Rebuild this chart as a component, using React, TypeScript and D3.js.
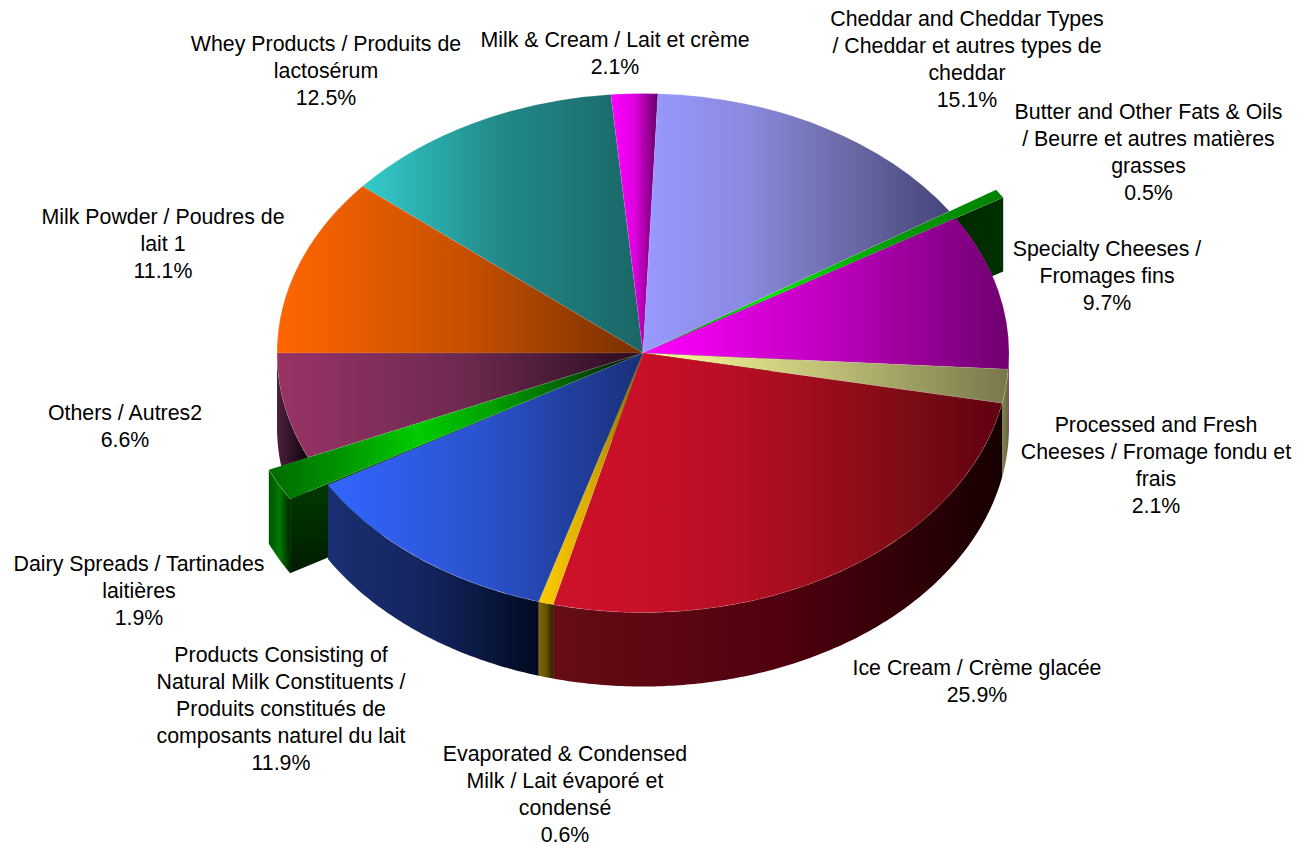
import * as d3 from "d3";

const categories = [
  "Milk & Cream",
  "Cheddar",
  "Butter",
  "Specialty",
  "Processed",
  "Ice Cream",
  "Evaporated",
  "Products",
  "Dairy Spreads",
  "Others",
  "Milk Powder",
  "Whey",
];
const shares = [2.05, 15.149, 0.5, 9.7, 2.1, 25.85, 0.649, 11.9, 1.9, 6.6, 11.1, 12.5];

const labelLines = [
  ["Milk & Cream / Lait et crème", "2.1%"],
  ["Cheddar and Cheddar Types", "/ Cheddar et autres types de", "cheddar", "15.1%"],
  ["Butter and Other Fats & Oils", "/ Beurre et autres matières", "grasses", "0.5%"],
  ["Specialty Cheeses /", "Fromages fins", "9.7%"],
  ["Processed and Fresh", "Cheeses / Fromage fondu et", "frais", "2.1%"],
  ["Ice Cream / Crème glacée", "25.9%"],
  ["Evaporated & Condensed", "Milk / Lait évaporé et", "condensé", "0.6%"],
  ["Products Consisting of", "Natural Milk Constituents /", "Produits constitués de", "composants naturel du lait", "11.9%"],
  ["Dairy Spreads / Tartinades", "laitières", "1.9%"],
  ["Others / Autres2", "6.6%"],
  ["Milk Powder / Poudres de", "lait 1", "11.1%"],
  ["Whey Products / Produits de", "lactosérum", "12.5%"],
];
// centre x and first baseline of each label
const labelAnchors: [number, number][] = [
  [615, 47], [967, 26], [1148.5, 119], [1107, 256], [1156, 432], [977, 675],
  [565, 761], [281, 662], [139, 571], [125, 420], [163, 224], [326, 51],
];

// top face gradient stops, left to right, evenly spaced
const topStops = [
  ["#ff00ff", "#e000e0", "#650065"],
  ["#9999ff", "#8a8ae0", "#6a6aa6", "#45457a"],
  ["#005000", "#00e800", "#00a000", "#008000"],
  ["#ff00ff", "#bf00bf", "#700070"],
  ["#ffff99", "#c0c078", "#77774a"],
  ["#cc1229", "#c81028", "#b80f24", "#9c0d1c", "#7a0c15", "#600010"],
  ["#ffcc00", "#d8ac00", "#7f6600"],
  ["#3366ff", "#2a52cc", "#1a2f78"],
  ["#006a00", "#009600", "#00cc00", "#00a000", "#006000", "#000800"],
  ["#993366", "#6e2a50", "#2a0c20"],
  ["#ff6600", "#c85000", "#773000"],
  ["#33cccc", "#228888", "#1a6666"],
];
// side wall gradient stops, left to right
const wallStops = [
  ["#640064", "#500050", "#300030"],
  ["#404070", "#303050", "#202030"],
  ["#002000", "#001c00", "#003000"],
  ["#700070", "#700070", "#600060"],
  ["#808050", "#777748", "#666640"],
  ["#660d14", "#520010", "#170000"],
  ["#806600", "#6a5500", "#2a2200"],
  ["#1a2f72", "#13235c", "#000a20"],
  ["#005400", "#007a00", "#002800"],
  ["#4d1f3d", "#2e1226", "#0a0206"],
  ["#803300", "#602600", "#301300"],
  ["#1a6666", "#134c4c", "#0d3333"],
];
const explode = [1, 1, 1.152, 1, 1, 1, 1, 1, 1.117, 1, 1, 1];
// back to front, so the front walls cover what runs behind them
const drawOrder = [2, 11, 0, 1, 10, 9, 8, 3, 4, 5, 6, 7];

const cx = 643;
const cy = 353;
const rx = 366;
const ry = 259.5;
const depth = 74;
const firstAngle = (-5.04 * Math.PI) / 180;
// the dairy wedge sits a little off the blue slice, its dark wall shows in the gap
const dairyGap = (0.3 * Math.PI) / 180;

const pieGen = d3
  .pie<number>()
  .sort(null)
  .startAngle(firstAngle)
  .endAngle(firstAngle + 2 * Math.PI);
const slices = pieGen(shares);

const px = (a: number, k: number) => k * rx * Math.sin(a);
const py = (a: number, k: number) => -k * ry * Math.cos(a);

const wallArea = d3
  .area<[number, number]>()
  .x((d) => px(d[0], d[1]))
  .y0((d) => py(d[0], d[1]))
  .y1((d) => py(d[0], d[1]) + depth);

// outer wall, only the part on the front half of the pie
const outerWall = (a0: number, a1: number, k: number) => {
  const from = Math.max(a0, Math.PI / 2);
  const to = Math.min(a1, (3 * Math.PI) / 2);
  if (to <= from) return null;
  const n = Math.ceil((to - from) / 0.01);
  const pts = d3.range(n + 1).map((i) => [from + ((to - from) * i) / n, k] as [number, number]);
  return wallArea(pts);
};
const edgeWall = (a: number, k: number) => wallArea([[a, 0], [a, k]]);

const Stops = ({ colors }: { colors: string[] }) => {
  const offset = d3.scalePoint<number>().domain(d3.range(colors.length)).range([0, 100]);
  return (
    <>
      {colors.map((c, i) => (
        <stop key={i} offset={`${offset(i)}%`} stopColor={c} />
      ))}
    </>
  );
};

export default function App() {
  return (
    <svg
      width={1307}
      height={846}
      style={{ position: "absolute", left: 0, top: 0, display: "block" }}
      fontFamily="'Liberation Sans', Arial, sans-serif"
    >
      <defs>
        {categories.map((_, i) => (
          <linearGradient key={`t${i}`} id={`top${i}`} x1="0" x2="1" y1="0" y2="0">
            <Stops colors={topStops[i]} />
          </linearGradient>
        ))}
        {categories.map((_, i) => (
          <linearGradient key={`w${i}`} id={`wall${i}`} x1="0" x2="1" y1="0" y2="0">
            <Stops colors={wallStops[i]} />
          </linearGradient>
        ))}
        <linearGradient id="dairyEdge" x1="0" x2="0" y1="0" y2="1">
          <stop offset="0%" stopColor="#006400" />
          <stop offset="100%" stopColor="#001c00" />
        </linearGradient>
      </defs>
      <g transform={`translate(${cx},${cy})`}>
        {drawOrder.map((i) => {
          const s = i === 8 ? { ...slices[i], startAngle: slices[i].startAngle + dairyGap } : slices[i];
          const k = explode[i];
          const arc = d3.arc<d3.PieArcDatum<number>>().innerRadius(0).outerRadius(rx * k);
          const outer = outerWall(s.startAngle, s.endAngle, k);
          return (
            <g key={categories[i]}>
              {i === 2 && <path d={edgeWall(s.endAngle, k) ?? ""} fill={`url(#wall${i})`} />}
              {i === 8 && <path d={edgeWall(s.startAngle, k) ?? ""} fill="url(#dairyEdge)" />}
              {outer && <path d={outer} fill={`url(#wall${i})`} />}
              <path
                d={arc(s) ?? ""}
                transform={`scale(1,${ry / rx})`}
                fill={`url(#top${i})`}
                stroke="#ffffff"
                strokeOpacity={0.18}
                strokeWidth={0.6}
              />
            </g>
          );
        })}
      </g>
      {labelLines.map((lines, i) => (
        <text key={i} textAnchor="middle" fontSize={21.33} fill="#000000">
          {lines.map((line, j) => (
            <tspan key={j} x={labelAnchors[i][0]} y={labelAnchors[i][1] + j * 27}>
              {line}
            </tspan>
          ))}
        </text>
      ))}
    </svg>
  );
}
